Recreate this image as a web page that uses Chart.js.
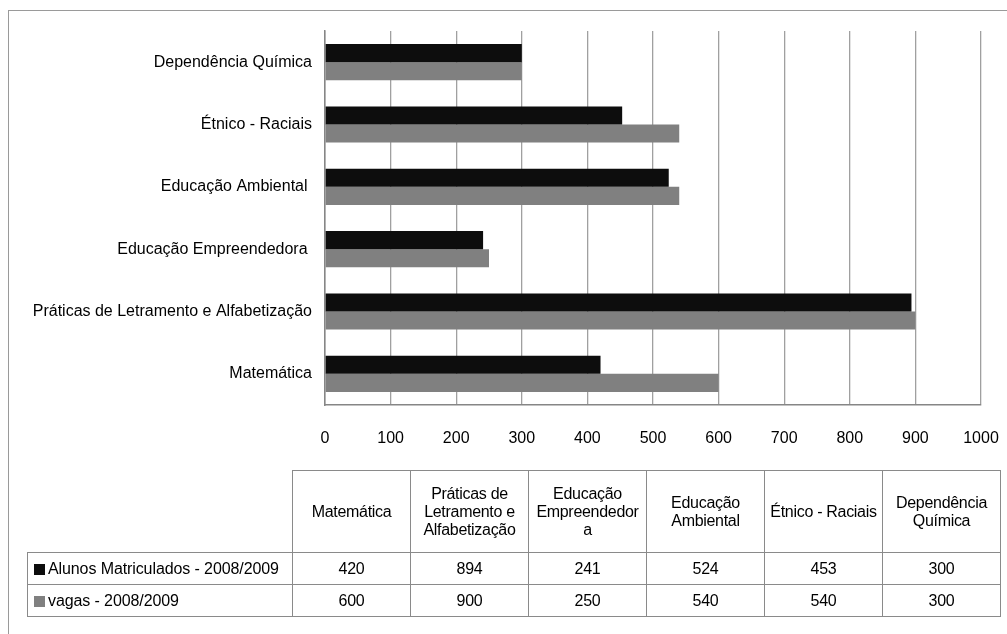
<!DOCTYPE html>
<html>
<head>
<meta charset="utf-8">
<script src="https://cdn.jsdelivr.net/npm/chart.js@4.4.1/dist/chart.umd.min.js"></script>
<style>
  html, body { margin: 0; padding: 0; background: #fff; }
  #wrap { position: relative; width: 1007px; height: 634px; overflow: hidden; font-family: "Liberation Sans", Arial, sans-serif; }
  #frame { position: absolute; left: 8px; top: 10px; width: 1010px; height: 640px; border: 1px solid #9a9a9a; box-sizing: border-box; }
  #c { position: absolute; left: 0; top: 0; }
  table { position: absolute; left: 27px; top: 470px; border-collapse: collapse; font-size: 16px; color: #000; letter-spacing: -0.3px; table-layout: fixed; }
  td { border: 1.5px solid #8a8a8a; text-align: center; padding: 0; line-height: 18px; white-space: nowrap; overflow: hidden; }
  td.hdr { width: 117px; height: 81px; }
  td.v { height: 31px; }
  td.lab { text-align: left; width: 258px; padding-left: 6px; letter-spacing: -0.1px; }
  td.blank { border: none; border-right: 1.5px solid #8a8a8a; border-bottom: 1.5px solid #8a8a8a; }
  .sw { display: inline-block; width: 11px; height: 11px; margin-right: 3px; vertical-align: -1px; }
</style>
</head>
<body>
<div id="wrap">
  <div id="frame"></div>
  <canvas id="c" width="1007" height="634"></canvas>
  <table id="tbl"></table>
</div>
<script>
// ---- data ----
const categories = ['Matemática', 'Práticas de Letramento e Alfabetização', 'Educação Empreendedora ', 'Educação Ambiental ', 'Étnico - Raciais', 'Dependência Química'];
const tableHeaders = [['Matemática'], ['Práticas de', 'Letramento e', 'Alfabetização'], ['Educação', 'Empreendedor', 'a'], ['Educação', 'Ambiental'], ['Étnico - Raciais'], ['Dependência', 'Química']];
const seriesNames = ['Alunos Matriculados - 2008/2009', 'vagas - 2008/2009'];
const alunos = [420, 894, 241, 524, 453, 300];
const vagas = [600, 900, 250, 540, 540, 300];
const xTicks = [0, 100, 200, 300, 400, 500, 600, 700, 800, 900, 1000];
const seriesColors = ['#0d0d0d', '#808080'];

// ---- chart (categories bottom-to-top) ----
const labels = categories.slice().reverse();
const FONT = { family: '"Liberation Sans", Arial, sans-serif', size: 16 };

new Chart(document.getElementById('c'), {
  type: 'bar',
  data: {
    labels: labels,
    datasets: [
      { label: seriesNames[0], data: alunos.slice().reverse(), backgroundColor: seriesColors[0] },
      { label: seriesNames[1], data: vagas.slice().reverse(), backgroundColor: seriesColors[1] }
    ]
  },
  options: {
    indexAxis: 'y',
    responsive: false,
    animation: false,
    devicePixelRatio: 1,
    categoryPercentage: 0.58,
    barPercentage: 1.0,
    layout: { padding: { top: 31, right: 26, bottom: 0, left: 0 } },
    plugins: { legend: { display: false }, tooltip: { enabled: false } },
    scales: {
      x: {
        min: xTicks[0], max: xTicks[xTicks.length - 1],
        afterBuildTicks: (s) => { s.ticks = xTicks.map(v => ({ value: v })); },
        grid: { color: '#a0a0a0', lineWidth: 1.3, drawTicks: false },
        border: { display: true, color: '#868686', width: 1.5 },
        ticks: { color: '#000', font: FONT, padding: 24, maxRotation: 0, callback: (v) => String(v) },
        afterFit: (s) => { s.height = 229; s.paddingRight = 0; s.paddingLeft = 0; }
      },
      y: {
        grid: { display: false, drawTicks: false },
        border: { display: true, color: '#868686', width: 1.5 },
        ticks: { color: '#000', font: FONT, padding: 13 },
        afterFit: (s) => { s.width = 325; }
      }
    }
  }
});

// ---- data table ----
const tbl = document.getElementById('tbl');
let html = '<tr><td class="blank" style="width:264px"></td>';
tableHeaders.forEach(h => { html += '<td class="hdr">' + h.join('<br>') + '</td>'; });
html += '</tr>';
[alunos, vagas].forEach((arr, i) => {
  html += '<tr><td class="lab v"><span class="sw" style="background:' + seriesColors[i] + '"></span>' + seriesNames[i] + '</td>';
  arr.forEach(v => { html += '<td class="v">' + v + '</td>'; });
  html += '</tr>';
});
tbl.innerHTML = html;
</script>
</body>
</html>
